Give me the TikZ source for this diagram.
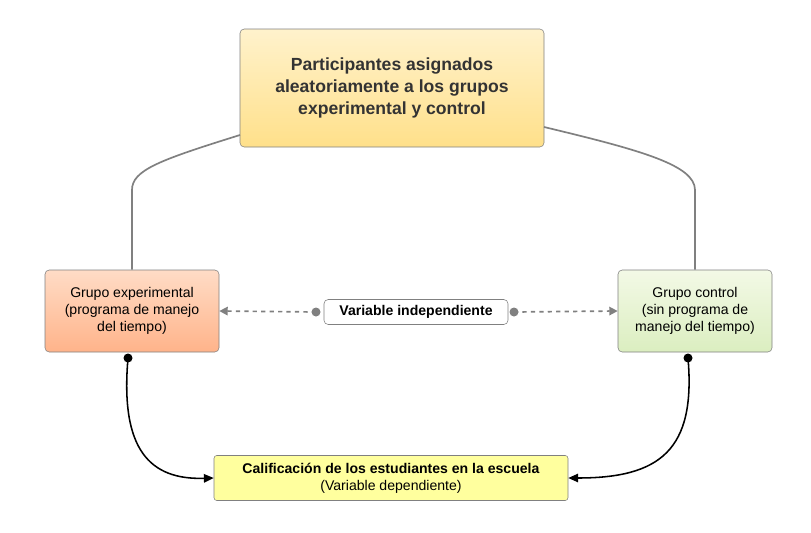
\documentclass[tikz,border=0pt]{standalone}
\usepackage{fontspec}
\setmainfont{Liberation Sans}
\usetikzlibrary{positioning,arrows.meta}
\definecolor{topA}{HTML}{FFF2CC}\definecolor{topB}{HTML}{FFE08A}
\definecolor{expA}{HTML}{FFDCC6}\definecolor{expB}{HTML}{FFB38A}
\definecolor{conA}{HTML}{F3F9E6}\definecolor{conB}{HTML}{DBEEC0}
\definecolor{resF}{HTML}{FFFF9E}
\definecolor{linegray}{HTML}{808080}
\begin{document}
\begin{tikzpicture}[x=0.025cm,y=-0.025cm,
box/.style={draw=linegray,rounded corners=3pt,align=center,font=\fontsize{10}{12}\selectfont,inner sep=2pt},
link/.style={draw=linegray,line width=1.2pt},
dashlink/.style={draw=linegray,line width=1.2pt,dashed,-{Triangle[length=6pt,width=6pt]}},
res/.style={draw=black,line width=1.1pt,-{Triangle[length=7pt,width=6pt]}}]
\useasboundingbox (0,0) rectangle (811,533);
\node (asignados) [box,top color=topA,bottom color=topB,minimum width=304*0.025cm,minimum height=118*0.025cm,
    font=\fontsize{12.5}{15.5}\selectfont\bfseries,text=black!80] at (392,88)
    {Participantes asignados\\aleatoriamente a los grupos\\experimental y control};
\node (exper) [box,top color=expA,bottom color=expB,minimum width=174*0.025cm,minimum height=82*0.025cm] at (132,311)
    {Grupo experimental\\(programa de manejo\\del tiempo)};
\node (control) [box,top color=conA,bottom color=conB,minimum width=154*0.025cm,minimum height=82*0.025cm] at (695,311)
    {Grupo control\\(sin programa de\\manejo del tiempo)};
\node (indep) [box,fill=white,minimum width=184*0.025cm,minimum height=25*0.025cm,font=\fontsize{10}{12}\selectfont\bfseries] at (416,312)
    {Variable independiente};
\node (calif) [box,fill=resF,minimum width=354*0.025cm,minimum height=45*0.025cm,rounded corners=2pt] at (391,478)
    {\textbf{Calificación de los estudiantes en la escuela}\\(Variable dependiente)};
% connectors
\coordinate (topL) at (240,135);
\coordinate (topR) at (544,127);
\draw[link] (topL) .. controls (160,160) and (132,170) .. (132,190) -- (exper.north);
\draw[link] (topR) .. controls (640,150) and (695,165) .. (695,190) -- (control.north);
\coordinate (dotL) at (316,312);
\coordinate (dotR) at (514,312);
\fill[linegray] (dotL) circle (4.5);
\fill[linegray] (dotR) circle (4.5);
\draw[dashlink] (dotL) -- (exper.east);
\draw[dashlink] (dotR) -- (control.west);
\coordinate (dotE) at (128,358);
\coordinate (dotC) at (688,358);
\fill (dotE) circle (4.5);
\fill (dotC) circle (4.5);
\draw[res] (dotE) .. controls (120,450) and (150,480) .. (calif.west);
\draw[res] (dotC) .. controls (696,450) and (660,478) .. (calif.east);
\end{tikzpicture}
\end{document}
